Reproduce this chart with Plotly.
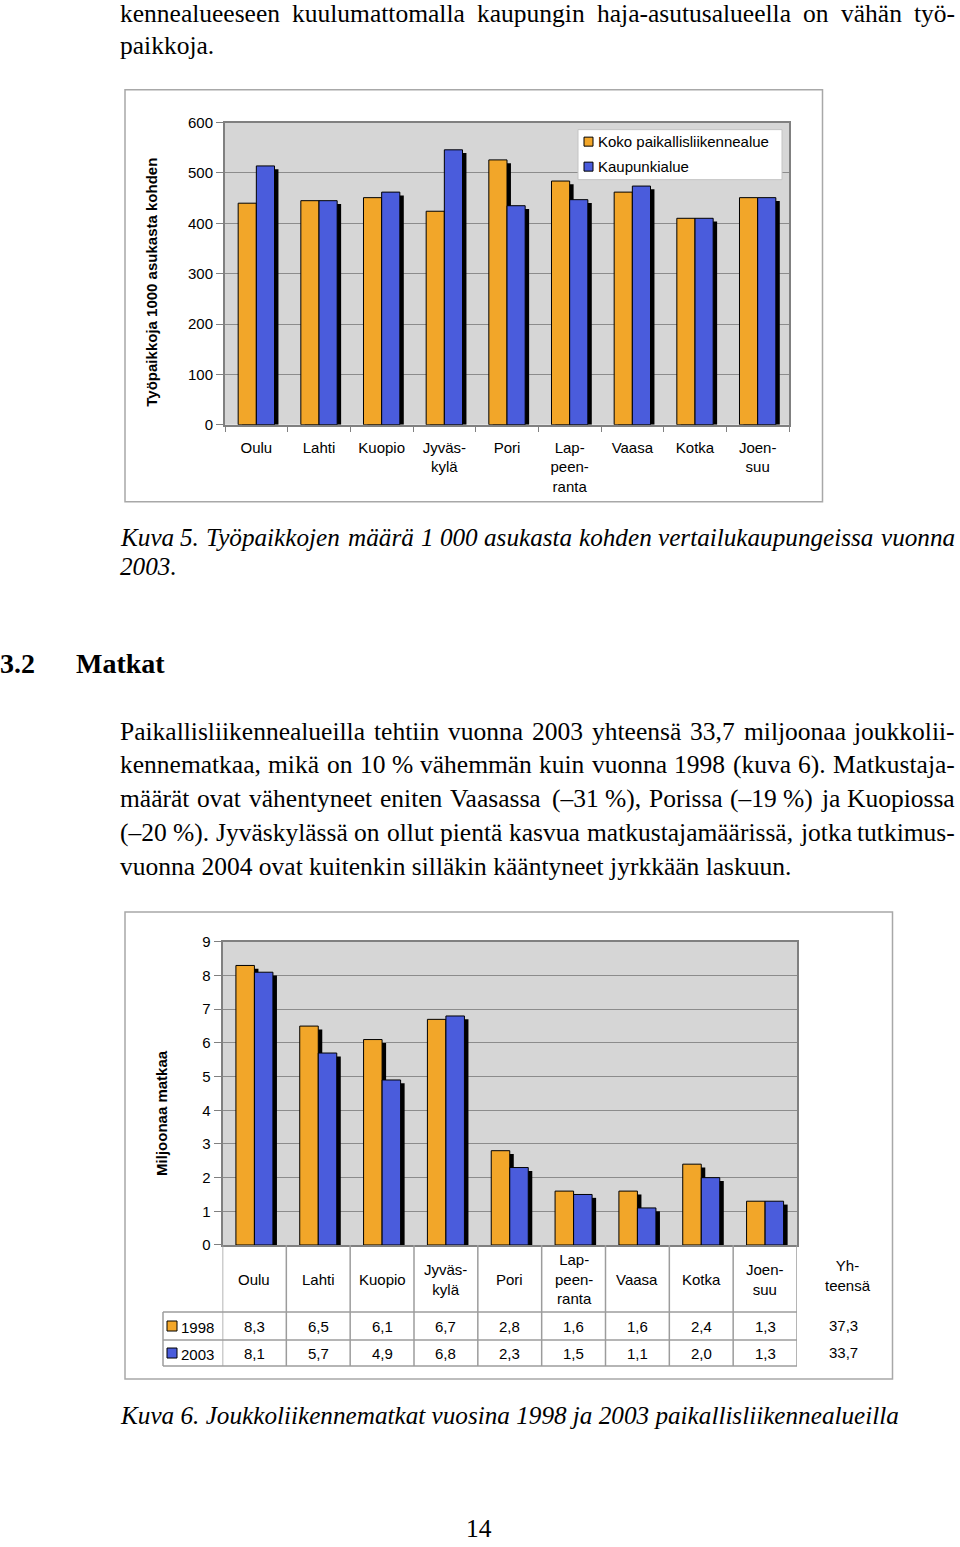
import plotly.graph_objects as go

# ---------------- data ----------------
cities = ["Oulu", "Lahti", "Kuopio", "Jyväskylä", "Pori", "Lappeenranta", "Vaasa", "Kotka", "Joensuu"]
city_labels = ["Oulu", "Lahti", "Kuopio", "Jyväs-<br>kylä", "Pori", "Lap-<br>peen-<br>ranta",
               "Vaasa", "Kotka", "Joen-<br>suu"]

# Kuva 5: työpaikkoja 1000 asukasta kohden
koko_alue = [440, 445, 451, 424, 526, 484, 462, 410, 451]
kaupunkialue = [514, 445, 462, 546, 435, 447, 474, 410, 451]
series1_names = ["Koko paikallisliikennealue", "Kaupunkialue"]
y1_ticks = [0, 100, 200, 300, 400, 500, 600]

# Kuva 6: joukkoliikennematkat, miljoonaa matkaa
years = ["1998", "2003"]
trips_1998 = [8.3, 6.5, 6.1, 6.7, 2.8, 1.6, 1.6, 2.4, 1.3]
trips_2003 = [8.1, 5.7, 4.9, 6.8, 2.3, 1.5, 1.1, 2.0, 1.3]
totals = [37.3, 33.7]
y2_ticks = [0, 1, 2, 3, 4, 5, 6, 7, 8, 9]

# ---------------- style ----------------
W, H = 960, 1547
ORANGE = "#F2A629"
BLUE = "#4A5CDC"
PLOTBG = "#D6D6D6"
GRID = "#8C8C8C"
AXIS = "#808080"
FRAME = "#A8A8A8"
SANS = "Liberation Sans"
SERIF = "Liberation Serif"
CF = 15            # chart font size
BODY = 25.5        # body text size
ITAL = 25.2        # caption size

# vertical calibration of the photographed page (observed: out = OFF + SC * page)
OFF, SC = 9.4, 0.9887

def px(x):
    return x / W

def py(y):
    return 1 - ((y - OFF) / SC) / H

# pixel geometry of the two plot areas (target picture pixels)
P1 = dict(l=225, r=789, t=123, b=425)
P2 = dict(l=222.5, r=797, t=942, b=1245)

BW = 0.29   # bar width (category units)
SH = 0.063  # shadow shift (category units)

fig = go.Figure()

def add_chart(vals_a, vals_b, xa, ya, drop, names):
    for vals, off in ((vals_a, -BW), (vals_b, 0.0)):
        fig.add_trace(go.Bar(x=cities, y=[v - drop for v in vals], width=BW, offset=off + SH,
                             marker=dict(color="black", line=dict(width=0)),
                             xaxis=xa, yaxis=ya, showlegend=False, hoverinfo="skip"))
    for vals, off, col, nm in ((vals_a, -BW, ORANGE, names[0]),
                               (vals_b, 0.0, BLUE, names[1])):
        fig.add_trace(go.Bar(x=cities, y=vals, width=BW, offset=off, name=nm,
                             marker=dict(color=col, line=dict(color="black", width=1)),
                             xaxis=xa, yaxis=ya, showlegend=False))

add_chart(koko_alue, kaupunkialue, "x", "y", 6.5, series1_names)
add_chart(trips_1998, trips_2003, "x2", "y2", 0.1, years)

axis_common = dict(showline=True, linecolor=AXIS, linewidth=2, mirror=True,
                   tickfont=dict(family=SANS, size=CF, color="black"), zeroline=False)

fig.update_layout(
    width=W, height=H, margin=dict(l=0, r=0, t=0, b=0),
    paper_bgcolor="white", plot_bgcolor=PLOTBG, barmode="overlay", showlegend=False,
    font=dict(family=SANS, size=CF, color="black"),
    xaxis=dict(domain=[px(P1["l"]), px(P1["r"])], anchor="y", type="category",
               categoryorder="array", categoryarray=cities, range=[-0.5, 8.5],
               tickvals=cities, ticktext=city_labels, ticks="outside", tickson="boundaries",
               ticklen=5, tickcolor=AXIS, tickwidth=1, ticklabelstandoff=8,
               showgrid=False, **axis_common),
    yaxis=dict(domain=[py(P1["b"]), py(P1["t"])], anchor="x", range=[0, 600],
               tickvals=y1_ticks, ticks="outside", ticklen=7, tickcolor=AXIS,
               showgrid=True, gridcolor=GRID, gridwidth=1, **axis_common),
    xaxis2=dict(domain=[px(P2["l"]), px(P2["r"])], anchor="y2", type="category",
                categoryorder="array", categoryarray=cities, range=[-0.5, 8.5],
                showticklabels=False, ticks="", showgrid=False, **axis_common),
    yaxis2=dict(domain=[py(P2["b"]), py(P2["t"])], anchor="x2", range=[0, 9],
                tickvals=y2_ticks, ticks="outside", ticklen=7, tickcolor=AXIS,
                showgrid=True, gridcolor=GRID, gridwidth=1, **axis_common),
)

shapes = []
annos = []

def note(text, x, y, xref="paper", size=CF, xanchor="center", yanchor="middle", **kw):
    annos.append(dict(text=text, x=x, y=y, xref=xref, yref="paper", showarrow=False,
                      xanchor=xanchor, yanchor=yanchor, borderpad=0, borderwidth=0,
                      font=kw.pop("font", dict(family=SANS, size=size, color="black")), **kw))

# chart frames
for (x0, y0, x1, y1) in ((125, 90, 822.5, 502), (125, 912, 892.5, 1379)):
    shapes.append(dict(type="rect", xref="paper", yref="paper", x0=px(x0), x1=px(x1),
                       y0=py(y0), y1=py(y1), line=dict(color=FRAME, width=1.5)))

# legend of chart 1
shapes.append(dict(type="rect", xref="paper", yref="paper", x0=px(578), x1=px(782),
                   y0=py(130), y1=py(180), fillcolor="white", line=dict(color="#C4C4C4", width=1)))
for nm, col, yc in zip(series1_names, (ORANGE, BLUE), (142, 167)):
    shapes.append(dict(type="rect", xref="paper", yref="paper", x0=px(584), x1=px(593),
                       y0=py(yc + 4.5), y1=py(yc - 4.5), fillcolor=col,
                       line=dict(color="black", width=1)))
    note(nm, px(598), py(yc), xanchor="left")

# y axis titles
note("<b>Työpaikkoja 1000 asukasta kohden</b>", px(152), py(283), size=15, textangle=-90)
note("<b>Miljoonaa matkaa</b>", px(162), py(1113), size=15, textangle=-90)

# data table under chart 2
TABLE_LINE = dict(color="#9C9C9C", width=1.5)
t_head, t_r1, t_r2, t_end = 1245, 1312, 1340, 1366
t_left = 163
for k in range(len(cities) + 1):
    shapes.append(dict(type="line", xref="x2", yref="paper", x0=k - 0.5, x1=k - 0.5,
                       y0=py(t_head), y1=py(t_end), line=TABLE_LINE))
for yy in (t_r1, t_r2, t_end):
    shapes.append(dict(type="line", xref="paper", yref="paper", x0=px(t_left), x1=px(P2["r"]),
                       y0=py(yy), y1=py(yy), line=TABLE_LINE))
shapes.append(dict(type="line", xref="paper", yref="paper", x0=px(t_left), x1=px(t_left),
                   y0=py(t_r1), y1=py(t_end), line=TABLE_LINE))

for c, lab in zip(cities, city_labels):
    note(lab, c, py((t_head + t_r1) / 2 + 1), xref="x2")

def fmt(v):
    return f"{v:.1f}".replace(".", ",")

row_centers = [(t_r1 + t_r2) / 2, (t_r2 + t_end) / 2]
for vals, yc in zip((trips_1998, trips_2003), row_centers):
    for c, v in zip(cities, vals):
        note(fmt(v), c, py(yc), xref="x2")

for yr, col, yc in zip(years, (ORANGE, BLUE), row_centers):
    shapes.append(dict(type="rect", xref="paper", yref="paper", x0=px(167), x1=px(177),
                       y0=py(yc + 5), y1=py(yc - 5), fillcolor=col, line=dict(color="black", width=1)))
    note(yr, px(181), py(yc + 1), xanchor="left")

note("Yh-<br>teensä", px(848), py(1276))
for tv, yc in zip(totals, (1325, 1352)):
    note(fmt(tv), px(843), py(yc))

# ---------------- page text ----------------
TR = {' ': 250, '\u00a0': 250, 'a': 444, 'b': 500, 'c': 444, 'd': 500, 'e': 444, 'f': 333, 'g': 500,
      'h': 500, 'i': 278, 'j': 278, 'k': 500, 'l': 278, 'm': 778, 'n': 500, 'o': 500, 'p': 500,
      'q': 500, 'r': 333, 's': 389, 't': 278, 'u': 500, 'v': 500, 'w': 722, 'x': 500, 'y': 500,
      'z': 444, 'ä': 444, 'ö': 500, 'A': 722, 'J': 389, 'K': 722, 'M': 889, 'P': 556, 'V': 722,
      ',': 250, '.': 250, '-': 333, '–': 500, '%': 833, '(': 333, ')': 333}
TI = {' ': 250, '\u00a0': 250, 'a': 500, 'b': 500, 'c': 444, 'd': 500, 'e': 444, 'f': 278, 'g': 500,
      'h': 500, 'i': 278, 'j': 278, 'k': 444, 'l': 278, 'm': 722, 'n': 500, 'o': 500, 'p': 500,
      'q': 500, 'r': 389, 's': 389, 't': 278, 'u': 500, 'v': 444, 'w': 667, 'x': 444, 'y': 444,
      'z': 389, 'ä': 500, 'ö': 500, 'K': 667, 'T': 556, 'J': 444, '.': 250, '-': 333}

def text_line(txt, x0, baseline, size, italic=False, bold=False, x1=None, table=TR):
    yc = py(baseline - 0.3375 * size)
    style = "italic" if italic else "normal"
    def t(s):
        s = s.replace('\u00a0', '&nbsp;')
        return f"<b>{s}</b>" if bold else s
    font = dict(family=SERIF, size=size, color="black", style=style)
    if x1 is None:
        note(t(txt), px(x0), yc, xanchor="left", font=font)
        return
    words = txt.split(' ')
    widths = [sum(table.get(ch, 500) for ch in w) * size / 1000 for w in words]
    gap = (x1 - x0 - sum(widths)) / (len(words) - 1)
    x = x0
    for i, (w, wd) in enumerate(zip(words, widths)):
        last = i == len(words) - 1
        note(t(w), px(x1 if last else x), yc, xanchor="right" if last else "left", font=font)
        x += wd + gap

L, R = 120, 955
NB = '\u00a0'

text_line("kennealueeseen kuulumattomalla kaupungin haja-asutusalueella on vähän työ-", L, 23, BODY, x1=R)
text_line("paikkoja.", L, 54, BODY)

text_line(f"Kuva 5. Työpaikkojen määrä 1{NB}000 asukasta kohden vertailukaupungeissa vuonna",
          L, 546, ITAL, italic=True, x1=R, table=TI)
text_line("2003.", L, 575, ITAL, italic=True)

text_line("3.2", 0, 673, 28, bold=True)
text_line("Matkat", 76, 673, 28, bold=True)

para = [
    "Paikallisliikennealueilla tehtiin vuonna 2003 yhteensä 33,7 miljoonaa joukkolii-",
    f"kennematkaa, mikä on 10{NB}% vähemmän kuin vuonna 1998 (kuva 6). Matkustaja-",
    f"määrät ovat vähentyneet eniten Vaasassa (–31{NB}%), Porissa (–19{NB}%) ja Kuopiossa",
    f"(–20{NB}%). Jyväskylässä on ollut pientä kasvua matkustajamäärissä, jotka tutkimus-",
    "vuonna 2004 ovat kuitenkin silläkin kääntyneet jyrkkään laskuun.",
]
for i, line in enumerate(para):
    bl = 740 + i * 33.7
    if i < len(para) - 1:
        text_line(line, L, bl, BODY, x1=R)
    else:
        text_line(line, L, bl, BODY)

text_line("Kuva 6. Joukkoliikennematkat vuosina 1998 ja 2003 paikallisliikennealueilla",
          L, 1424, ITAL, italic=True)

# page number: kept inside the bottom edge of the page
note("14", px(479), py(1537 - 0.3375 * BODY), yanchor="middle",
     font=dict(family=SERIF, size=BODY, color="black"))

fig.update_layout(shapes=shapes, annotations=annos)

PAGE_FIX = (
    "document.documentElement.style.margin='0';"
    "document.documentElement.style.overflow='hidden';"
    "document.body.style.margin='0';"
    "document.body.style.overflow='hidden';"
    "var gd=document.getElementById('{plot_id}');"
    "gd.style.position='fixed';gd.style.top='0px';gd.style.left='0px';"
)
fig.write_html("out.html", config={"displayModeBar": False}, post_script=PAGE_FIX)
